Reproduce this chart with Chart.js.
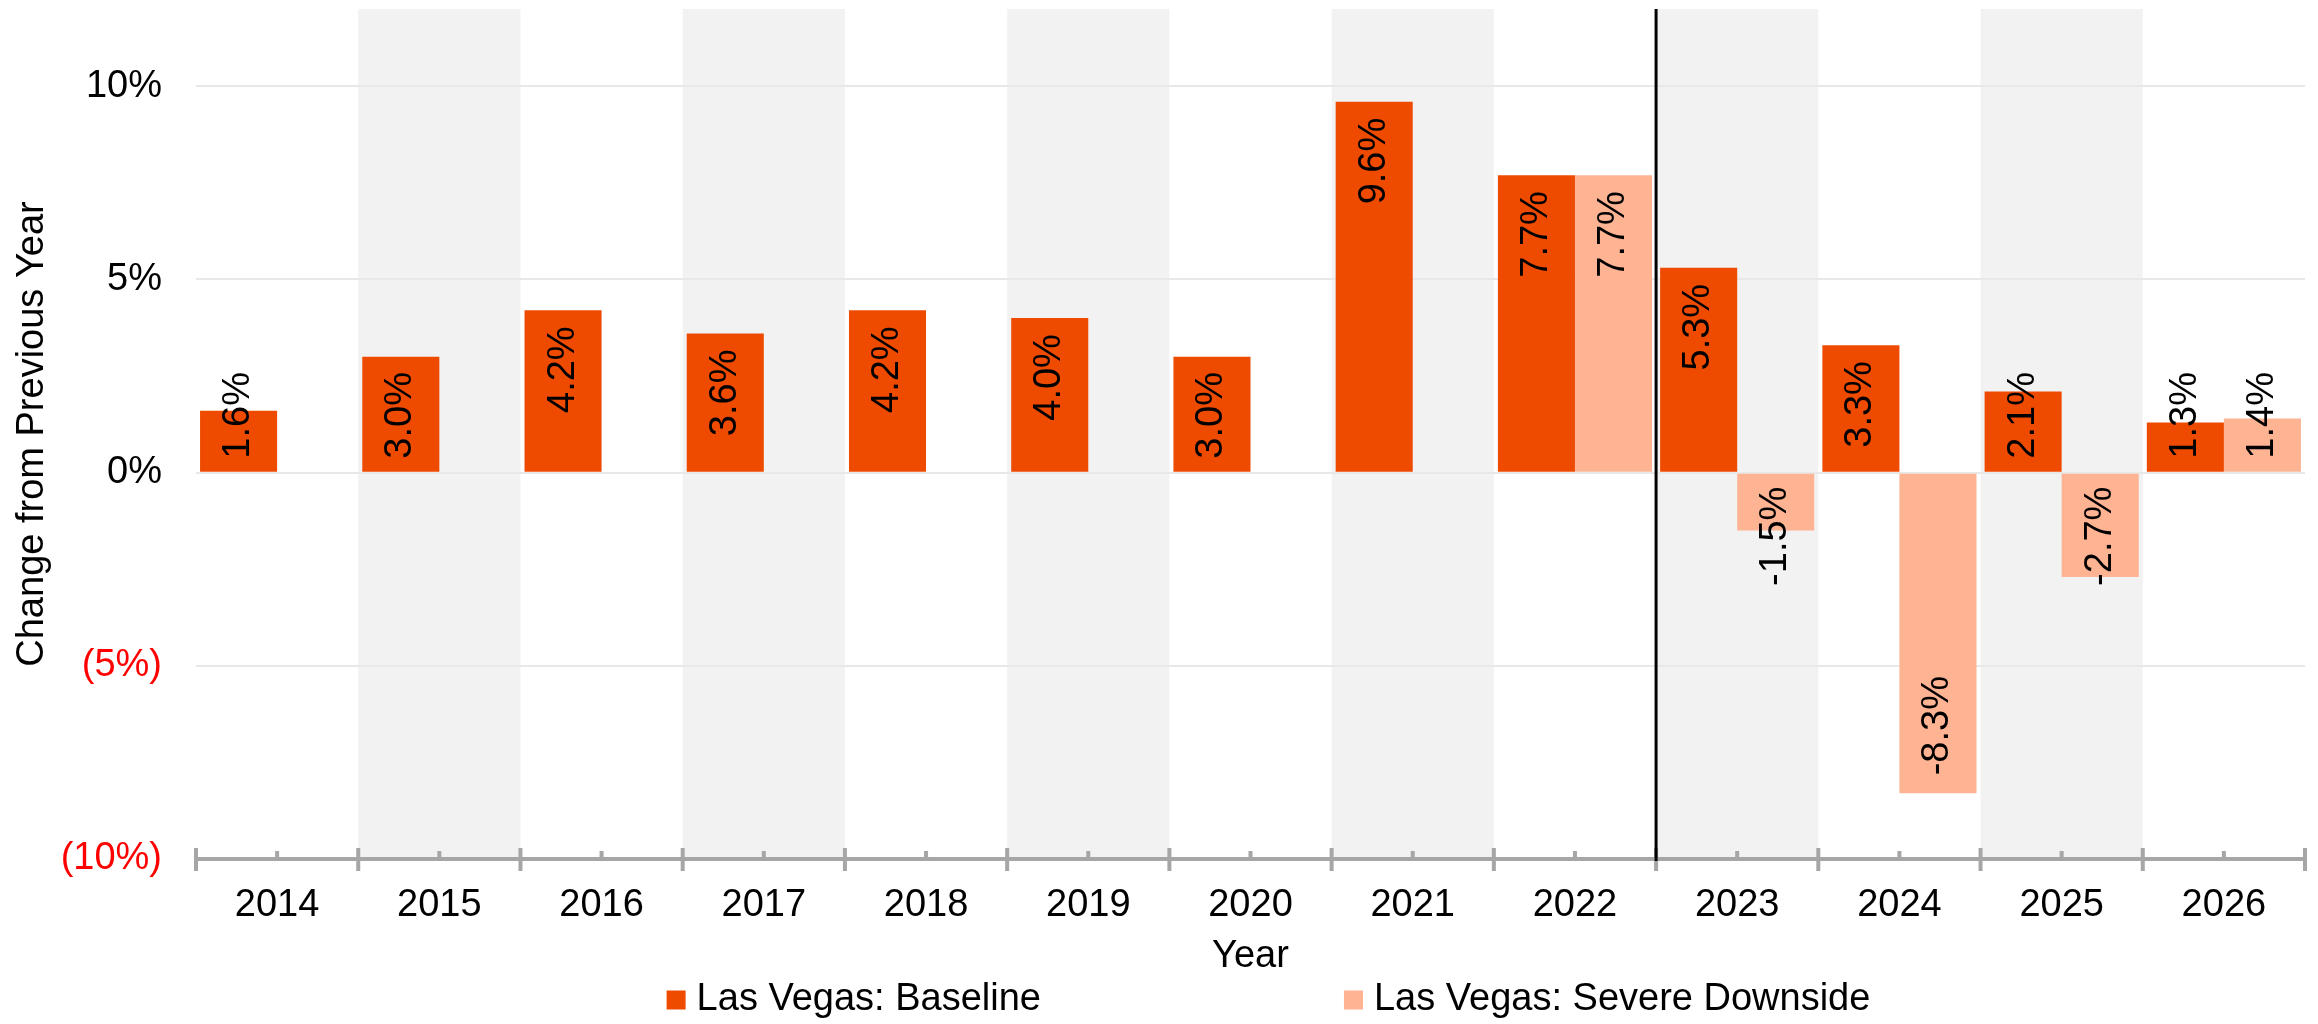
<!DOCTYPE html>
<html>
<head>
<meta charset="utf-8">
<title>Las Vegas: Change from Previous Year</title>
<script src="https://cdn.jsdelivr.net/npm/chart.js@4.4.1/dist/chart.umd.min.js"></script>
<style>
  html, body { margin: 0; padding: 0; background: #ffffff; }
  canvas { display: block; }
</style>
</head>
<body>
<canvas id="chart" width="2318" height="1024"></canvas>
<script>
// ---- data ----
const years = ['2014', '2015', '2016', '2017', '2018', '2019', '2020', '2021', '2022', '2023', '2024', '2025', '2026'];
const baseline = [1.6, 3.0, 4.2, 3.6, 4.2, 4.0, 3.0, 9.6, 7.7, 5.3, 3.3, 2.1, 1.3];
const severeDownside = [null, null, null, null, null, null, null, null, 7.7, -1.5, -8.3, -2.7, 1.4];
const seriesNames = ['Las Vegas: Baseline', 'Las Vegas: Severe Downside'];
const yTickValues = [-10, -5, 0, 5, 10];
const shadedYears = ['2015', '2017', '2019', '2021', '2023', '2025'];
const firstForecastYear = '2023';

// ---- styling ----
const FONT = '"Liberation Sans", Arial, Helvetica, sans-serif';
const FONT_SIZE = 38;
const COLOR_BASE = '#EE4A00';
const COLOR_DOWN = '#FEB393';
const AXIS_GREY = '#A6A6A6';

function categoryHalfWidth(scale) {
  return scale.width / scale.getLabels().length / 2;
}

// alternating year bands behind the grid
const yearBands = {
  id: 'yearBands',
  beforeDraw(chart) {
    const { ctx, chartArea: a, scales: { x } } = chart;
    const half = categoryHalfWidth(x);
    ctx.save();
    ctx.fillStyle = '#F2F2F2';
    shadedYears.forEach(yr => {
      const cx = x.getPixelForValue(years.indexOf(yr));
      ctx.fillRect(cx - half, a.top, half * 2, a.bottom - a.top);
    });
    ctx.restore();
  }
};

// rotated value labels inside the bar ends
const barValueLabels = {
  id: 'barValueLabels',
  afterDatasetsDraw(chart) {
    const { ctx } = chart;
    ctx.save();
    ctx.font = `${FONT_SIZE}px ${FONT}`;
    ctx.fillStyle = '#000000';
    ctx.textAlign = 'left';
    ctx.textBaseline = 'middle';
    chart.data.datasets.forEach((ds, di) => {
      const meta = chart.getDatasetMeta(di);
      meta.data.forEach((bar, i) => {
        const v = ds.data[i];
        if (v === null || v === undefined) return;
        const { x, y, base } = bar.getProps(['x', 'y', 'base'], true);
        const text = v.toFixed(1) + '%';
        const len = ctx.measureText(text).width;
        let start;
        if (v >= 0) {
          start = Math.min(y + 16 + len, base - 13);
        } else {
          start = Math.max(y - 18, base + 13 + len);
        }
        ctx.save();
        ctx.translate(x, start);
        ctx.rotate(-Math.PI / 2);
        ctx.fillText(text, 0, 0);
        ctx.restore();
      });
    });
    ctx.restore();
  }
};

// category ticks on the x axis and the forecast divider
const axisDecor = {
  id: 'axisDecor',
  afterDatasetsDraw(chart) {
    const { ctx, chartArea: a, scales: { x } } = chart;
    const half = categoryHalfWidth(x);
    const axisY = a.bottom;
    ctx.save();
    ctx.strokeStyle = AXIS_GREY;
    ctx.lineWidth = 4;
    ctx.beginPath();
    for (let i = 0; i < years.length; i++) {
      const cx = x.getPixelForValue(i);
      // short tick at the category centre
      ctx.moveTo(cx, axisY - 8);
      ctx.lineTo(cx, axisY);
      // long tick at the category boundaries
      ctx.moveTo(cx - half, axisY - 11);
      ctx.lineTo(cx - half, axisY + 12);
      if (i === years.length - 1) {
        ctx.moveTo(cx + half, axisY - 11);
        ctx.lineTo(cx + half, axisY + 12);
      }
    }
    ctx.stroke();

    const fi = years.indexOf(firstForecastYear);
    const dx = (x.getPixelForValue(fi - 1) + x.getPixelForValue(fi)) / 2;
    ctx.strokeStyle = '#000000';
    ctx.lineWidth = 3;
    ctx.beginPath();
    ctx.moveTo(dx, a.top);
    ctx.lineTo(dx, axisY + 2);
    ctx.stroke();
    ctx.restore();
  }
};

// legend row under the axis title
const bottomLegend = {
  id: 'bottomLegend',
  afterDraw(chart) {
    const { ctx, chartArea: a } = chart;
    const box = 19, boxGap = 11, itemGap = 303;
    ctx.save();
    ctx.font = `${FONT_SIZE}px ${FONT}`;
    ctx.textBaseline = 'middle';
    ctx.textAlign = 'left';
    const items = chart.data.datasets.map(ds => ({
      text: ds.label, color: ds.backgroundColor,
      w: box + boxGap + ctx.measureText(ds.label).width
    }));
    const total = items.reduce((s, it) => s + it.w, 0) + itemGap * (items.length - 1);
    let xPos = (a.left + a.right) / 2 - total / 2 + 18;
    const yMid = 1000;
    items.forEach(it => {
      ctx.fillStyle = it.color;
      ctx.fillRect(xPos, yMid - box / 2, box, box);
      ctx.fillStyle = '#000000';
      ctx.fillText(it.text, xPos + box + boxGap, yMid);
      xPos += it.w + itemGap;
    });
    ctx.restore();
  }
};

Chart.defaults.font.family = FONT;
Chart.defaults.font.size = FONT_SIZE;
Chart.defaults.color = '#000000';

new Chart(document.getElementById('chart'), {
  type: 'bar',
  data: {
    labels: years,
    datasets: [
      { label: seriesNames[0], data: baseline, backgroundColor: COLOR_BASE,
        categoryPercentage: 0.95, barPercentage: 1.0 },
      { label: seriesNames[1], data: severeDownside, backgroundColor: COLOR_DOWN,
        categoryPercentage: 0.95, barPercentage: 1.0 }
    ]
  },
  options: {
    responsive: false,
    animation: false,
    devicePixelRatio: 1,
    layout: { padding: { top: 9, right: 13, bottom: 45, left: 0 } },
    plugins: {
      legend: { display: false },
      tooltip: { enabled: false }
    },
    scales: {
      x: {
        offset: true,
        grid: { display: false, drawTicks: false },
        border: { display: true, color: AXIS_GREY, width: 4 },
        ticks: { padding: 24, maxRotation: 0, autoSkip: false, color: '#000000' },
        title: { display: true, text: 'Year', color: '#000000', padding: { top: 0, bottom: 0 } },
        afterFit(scale) { scale.paddingLeft = 0; scale.paddingRight = 0; scale.height = 120; }
      },
      y: {
        min: -10,
        max: 12,
        afterBuildTicks(scale) {
          scale.ticks = yTickValues.map(v => ({ value: v }));
        },
        afterFit(scale) { scale.paddingTop = 0; scale.paddingBottom = 0; scale.width = 196; },
        grid: { color: '#E8E8E8', lineWidth: 2, drawTicks: false },
        border: { display: false },
        ticks: {
          padding: 34,
          color: ctx => (ctx.tick && ctx.tick.value < 0 ? '#FF0000' : '#000000'),
          callback: v => (v < 0 ? '(' + Math.abs(v) + '%)' : v + '%')
        },
        title: { display: true, text: 'Change from Previous Year', color: '#000000',
                 padding: { top: 10, bottom: 0 } }
      }
    }
  },
  plugins: [yearBands, barValueLabels, axisDecor, bottomLegend]
});
</script>
</body>
</html>
